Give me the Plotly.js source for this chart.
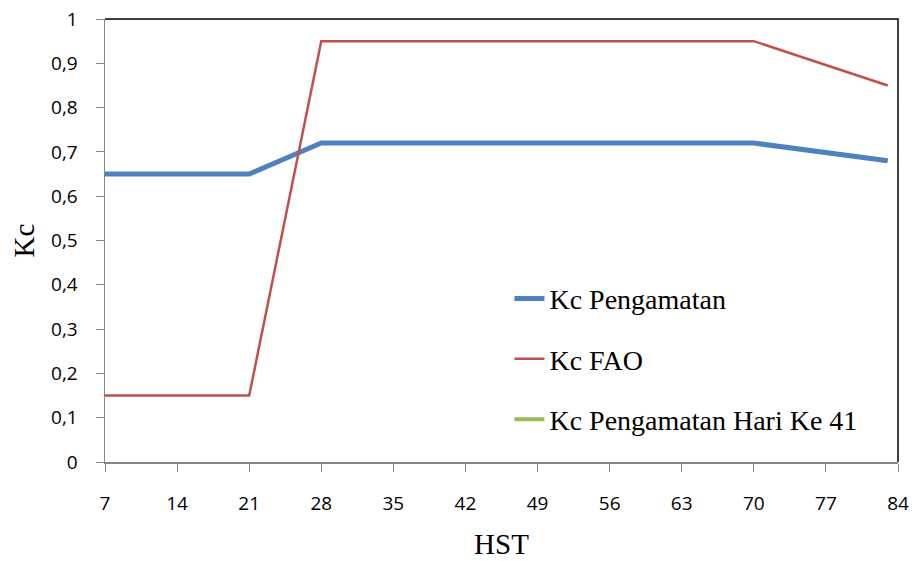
<!DOCTYPE html>
<html><head><meta charset="utf-8">
<script src="https://cdn.plot.ly/plotly-3.0.1.min.js"></script>
<style>body{margin:0;background:#fff}#c{width:916px;height:561px}</style>
</head><body><div id="c"></div>
<script>
const hst = [7, 21, 28, 70, 83];
const kcPengamatan = [0.65, 0.65, 0.72, 0.72, 0.68];
const kcFAO = [0.15, 0.15, 0.95, 0.95, 0.85];
const hari41X = [41];
const hari41Y = [0.72];
const xTicks = [7, 14, 21, 28, 35, 42, 49, 56, 63, 70, 77, 84];

const serif = 'Liberation Serif';
const sans = 'Open Sans';
const traces = [
  {x: hst, y: kcPengamatan, type: 'scatter', mode: 'lines', name: 'Kc Pengamatan', legendgroup: 'a',
   line: {color: '#4F81BD', width: 5}},
  {x: hst, y: kcFAO, type: 'scatter', mode: 'lines', name: 'Kc FAO', legendgroup: 'b',
   line: {color: '#C0504D', width: 2.5}},
  {x: hari41X, y: hari41Y, type: 'scatter', mode: 'lines', name: 'Kc Pengamatan Hari Ke 41', legendgroup: 'c',
   line: {color: '#9BBB59', width: 4}}
];

const layout = {
  width: 916, height: 561,
  margin: {l: 105, r: 18, t: 19, b: 99},
  paper_bgcolor: '#fff', plot_bgcolor: '#fff',
  separators: ',.',
  showlegend: true,
  legend: {x: 0.51, y: 0.232, xanchor: 'left', yanchor: 'middle',
    font: {family: serif, size: 28, color: '#000'},
    bgcolor: 'rgba(0,0,0,0)', tracegroupgap: 21, traceorder: 'grouped'},
  xaxis: {range: [7, 84], tickvals: xTicks, ticktext: xTicks.map(String),
    showgrid: false, zeroline: false, showline: true, linecolor: '#868686', linewidth: 1.5,
    ticks: 'outside', ticklen: 8, tickcolor: '#868686', ticklabelstandoff: 16,
    tickfont: {family: sans, size: 19, color: '#000'},
    title: {text: 'HST', standoff: 18, font: {family: serif, size: 29, color: '#000'}}},
  yaxis: {range: [0, 1], dtick: 0.1, tick0: 0,
    showgrid: false, zeroline: false, showline: true, linecolor: '#868686', linewidth: 1.5,
    ticks: 'outside', ticklen: 8, tickcolor: '#868686', ticklabelstandoff: 14,
    tickfont: {family: sans, size: 19, color: '#000'},
    title: {text: 'Kc', standoff: 8, font: {family: serif, size: 29, color: '#000'}}},
  shapes: [
    {type: 'path', xref: 'paper', yref: 'paper', path: 'M 0 1 L 1 1 L 1 0',
     line: {color: '#000', width: 1.5}}
  ]
};
Plotly.newPlot('c', traces, layout, {displayModeBar: false, staticPlot: true});
</script></body></html>
